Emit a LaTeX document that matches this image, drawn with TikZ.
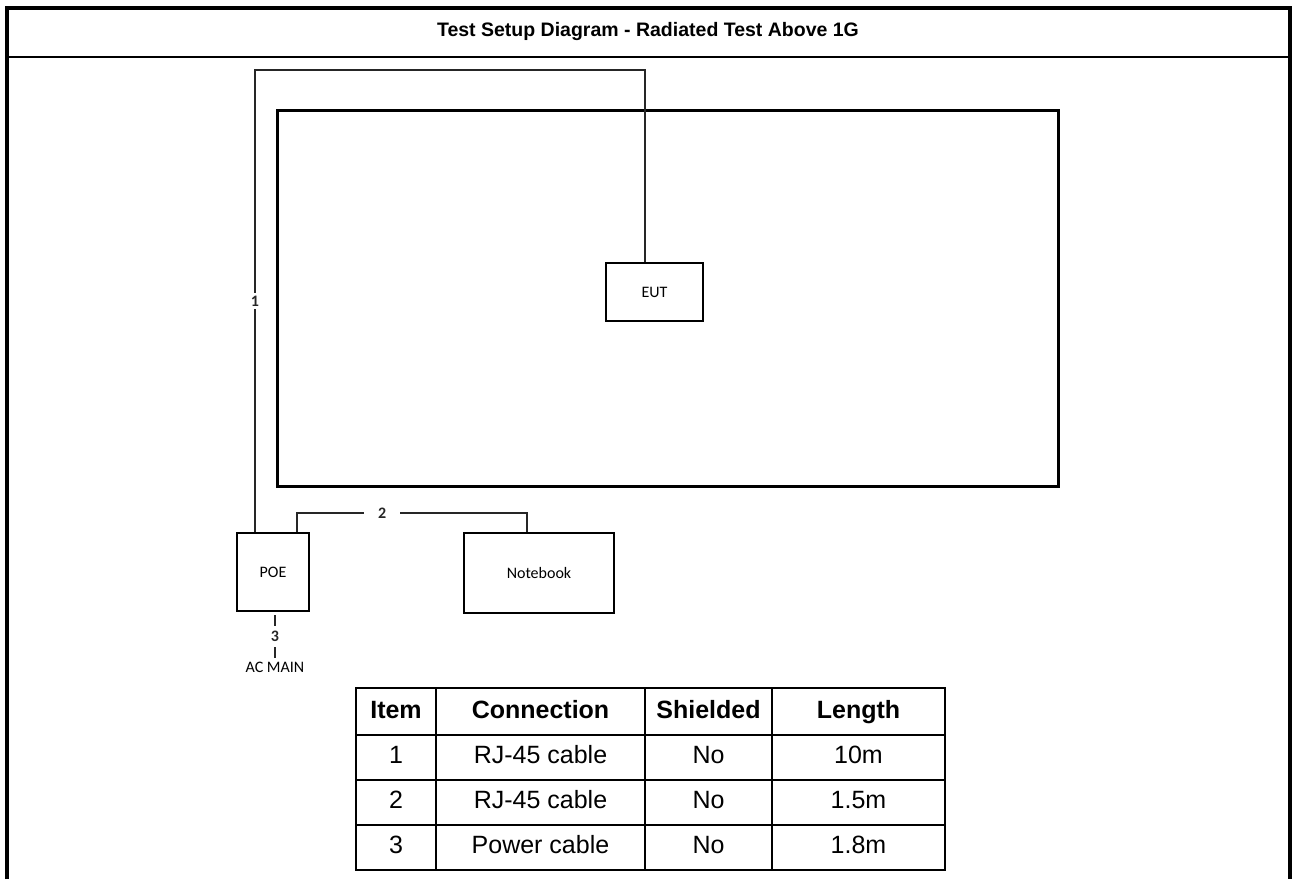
\documentclass[tikz,border=0pt]{standalone}
\usepackage{fontspec}
\setmainfont{Liberation Sans}
\newfontfamily\calibri{Carlito}
\usetikzlibrary{positioning}

\tikzset{
  frame/.style={line width=3.5pt},
  unitbox/.style={draw, line width=2.6pt, inner sep=0pt, font=\calibri\fontsize{16}{18}\selectfont},
  cable/.style={line width=1.2pt, black!85},
  cablelbl/.style={fill=white, inner sep=3pt, font=\calibri\bfseries\fontsize{16}{18}\selectfont},
  headcell/.style={font=\bfseries\fontsize{25}{28}\selectfont, text height=18pt, text depth=5pt},
  bodycell/.style={font=\fontsize{25}{28}\selectfont, text height=18pt, text depth=5pt},
}

\begin{document}
\begin{tikzpicture}[x=1pt, y=-1pt]
\useasboundingbox (0,0) rectangle (1295,879);

% Outer frame (open at the bottom) and title bar
\draw[frame] (7,879) -- (7,8) -- (1290,8) -- (1290,879);
\draw[line width=2.5pt] (7,57) -- (1290,57);
\node[font=\bfseries\fontsize{19.5}{23}\selectfont] (title) at (648,31) {Test Setup Diagram - Radiated Test Above 1G};

% Table top and units
\node[draw, line width=3pt, minimum width=781pt, minimum height=376pt] (testtable) at (667.5,298) {};
\node[unitbox, minimum width=97pt, minimum height=58pt] (eut) at (654.5,292) {EUT};
\node[unitbox, minimum width=72pt, minimum height=78pt] (poe) at (273,572) {POE};
\node[unitbox, minimum width=150pt, minimum height=80pt] (notebook) at (539,573) {Notebook};
\node[font=\calibri\fontsize{16}{18}\selectfont] (acmain) at (275,667) {AC MAIN};

% Cable 1: POE to EUT
\coordinate (bend1) at (255,70);
\coordinate (drop1) at (645,70);
\draw[cable] (poe.north -| bend1) -- node[cablelbl] (lbl1) {1} (bend1) -- (drop1) -- (drop1 |- eut.north);

% Cable 2: POE to Notebook
\coordinate (bend2) at (297,513);
\coordinate (drop2) at (527,513);
\draw[cable] (poe.north -| bend2) -- (bend2) -- node[cablelbl, pos=0.37, inner xsep=14pt] (lbl2) {2} (drop2) -- (drop2 |- notebook.north);

% Cable 3: POE to AC main
\draw[cable] ([yshift=-3pt]poe.south -| acmain.north) -- node[cablelbl, inner ysep=5pt] (lbl3) {3} (acmain.north);

% Cable list
\draw[line width=1.5pt] (436,688) -- (436,870);
\draw[line width=1.5pt] (645,688) -- (645,870);
\draw[line width=1.5pt] (772,688) -- (772,870);
\draw[line width=1.5pt] (356,735) -- (945,735);
\draw[line width=1.5pt] (356,780) -- (945,780);
\draw[line width=1.5pt] (356,825) -- (945,825);
\draw[line width=2.5pt] (356,688) rectangle (945,870);

\node[headcell] (hitem) at (396,712) {Item};
\node[headcell] (hconn) at (540.5,712) {Connection};
\node[headcell] (hshield) at (708.5,712) {Shielded};
\node[headcell] (hlen) at (858.5,712) {Length};

\node[bodycell] (item1) at (396,757) {1};
\node[bodycell] (conn1) at (540.5,757) {RJ-45 cable};
\node[bodycell] (shield1) at (708.5,757) {No};
\node[bodycell] (len1) at (858.5,757) {10m};

\node[bodycell] (item2) at (396,802) {2};
\node[bodycell] (conn2) at (540.5,802) {RJ-45 cable};
\node[bodycell] (shield2) at (708.5,802) {No};
\node[bodycell] (len2) at (858.5,802) {1.5m};

\node[bodycell] (item3) at (396,847) {3};
\node[bodycell] (conn3) at (540.5,847) {Power cable};
\node[bodycell] (shield3) at (708.5,847) {No};
\node[bodycell] (len3) at (858.5,847) {1.8m};

\end{tikzpicture}
\end{document}
